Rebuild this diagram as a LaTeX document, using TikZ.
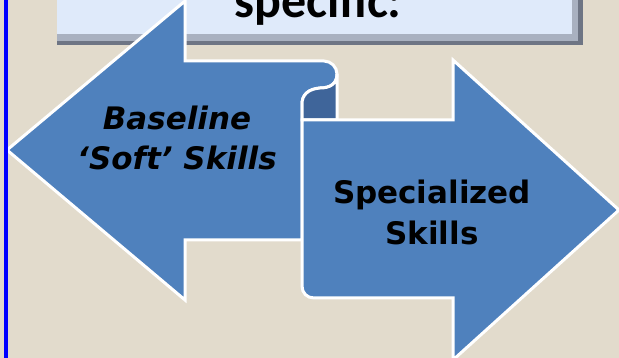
\documentclass[tikz,border=0pt]{standalone}
\usepackage{fontspec}
\setmainfont{DejaVu Sans}
\newfontfamily\titlefont{Carlito}
\usetikzlibrary{positioning}
\definecolor{paper}{HTML}{E2DBCC}
\definecolor{edgeblue}{HTML}{0000FF}
\definecolor{ribbonc}{HTML}{4F81BD}
\definecolor{foldc}{HTML}{3F659A}
\definecolor{titlec}{HTML}{DFEAFA}
\definecolor{bevelc}{HTML}{A9B1C0}
\definecolor{bevelk}{HTML}{6E7584}
\tikzset{
  face/.style={fill=ribbonc, draw=white, line width=3pt, line join=miter},
  fold/.style={face, fill=foldc},
  lbl/.style={font=\fontsize{31}{41}\selectfont\bfseries, text=black, align=center, inner sep=0pt, anchor=base},
}

\begin{document}
\begin{tikzpicture}[x=1pt, y=-1pt]
  \useasboundingbox (0,0) rectangle (619,358);
  \fill[paper] (0,0) rectangle (619,358);
  % title box, cut by the top edge
  \fill[bevelk] (57,-5) rectangle (583,45);
  \fill[bevelc] (57,-5) rectangle (578,41);
  \fill[titlec] (57,-5) rectangle (572,34);
  \node[font=\titlefont\fontsize{50}{60}\selectfont\bfseries, anchor=base, inner sep=0pt] (title) at (318,18) {specific:};
  % left arrow
  \draw[face] (7,150) -- (185,1) -- (185,61) -- (324,61)
    .. controls (331,61) and (337,67) .. (337,74)
    .. controls (337,84) and (330,88) .. (320,88)
    .. controls (308,89) and (302,95) .. (302,104)
    -- (302,240) -- (185,240) -- (185,300) -- cycle;
  % fold between the arrows
  \draw[fold] (337,74) -- (337,120) -- (302,120) -- (302,104)
    .. controls (302,95) and (308,89) .. (320,88)
    .. controls (330,88) and (337,84) .. (337,74) -- cycle;
  % right arrow
  \draw[face] (302,120) -- (453,120) -- (453,60) -- (619,210) -- (453,360) -- (453,298) -- (314,298)
    .. controls (307,298) and (302,293) .. (302,286) -- cycle;
  \node[lbl, font=\fontsize{31}{40}\selectfont\bfseries\itshape] (soft) at (177,170) {Baseline\\‘Soft’ Skills};
  \node[lbl] (special) at (432,245) {Specialized\\Skills};
  % frame line on the left
  \draw[edgeblue, line width=4pt] (6,0) -- (6,358);
\end{tikzpicture}
\end{document}
